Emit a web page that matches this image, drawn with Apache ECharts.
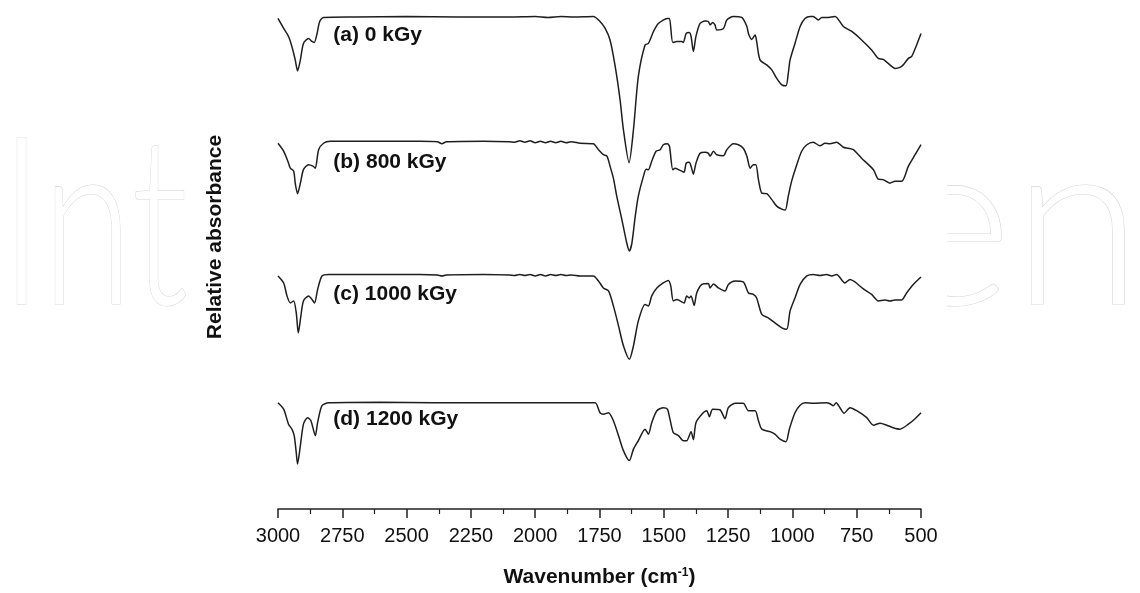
<!DOCTYPE html>
<html>
<head>
<meta charset="utf-8">
<title>FTIR spectra</title>
<script src="https://cdn.jsdelivr.net/npm/echarts@6/dist/echarts.min.js"></script>
<style>
  html, body { margin: 0; padding: 0; background: #fff; }
  #main { width: 1140px; height: 593px; }
</style>
</head>
<body>
<div id="main"></div>
<script type="text/javascript">
// wavenumber ticks (cm-1)
var xTicks = [3000, 2750, 2500, 2250, 2000, 1750, 1500, 1250, 1000, 750, 500];

var doseLabels = ['(a) 0 kGy', '(b) 800 kGy', '(c) 1000 kGy', '(d) 1200 kGy'];

// [wavenumber, relative absorbance (offset for clarity)]
var spec0 = [
  [3000, 98.3], [2978, 96.3], [2959, 94.7], [2946, 92.7], [2933, 90.0], [2924, 87.8],
  [2913, 90.0], [2901, 93.3], [2881, 94.3], [2868, 93.7], [2859, 93.5], [2848, 95.3],
  [2838, 97.7], [2823, 98.5], [2700, 98.6], [2500, 98.7], [2300, 98.6], [2100, 98.6],
  [2000, 98.7], [1950, 98.5], [1900, 98.7], [1850, 98.6], [1774, 98.7], [1748, 97.7],
  [1728, 96.3], [1709, 94.0], [1689, 88.7], [1670, 82.0], [1657, 76.0], [1635, 69.4],
  [1618, 76.0], [1599, 86.7], [1573, 93.0], [1560, 93.3], [1540, 95.7], [1521, 97.3],
  [1486, 98.3], [1478, 98.3], [1465, 93.5], [1449, 93.7], [1430, 93.7], [1424, 93.5],
  [1413, 95.3], [1401, 95.5], [1394, 94.7], [1385, 91.7], [1375, 94.7], [1359, 97.3],
  [1340, 97.8], [1327, 97.7], [1320, 97.0], [1310, 97.5], [1301, 97.0], [1294, 96.0],
  [1268, 96.3], [1255, 98.0], [1230, 98.7], [1197, 98.5], [1177, 96.7], [1171, 95.3],
  [1158, 94.1], [1145, 95.0], [1139, 93.7], [1126, 90.0], [1100, 89.0], [1080, 88.0],
  [1061, 86.3], [1041, 85.0], [1025, 84.8], [1016, 87.3], [1009, 90.0], [990, 93.3],
  [970, 96.7], [951, 98.3], [931, 98.7], [919, 98.7], [899, 98.0], [886, 98.5],
  [867, 98.5], [834, 98.7], [802, 96.7], [769, 95.7], [731, 94.0], [692, 92.0],
  [666, 90.3], [647, 90.1], [614, 88.7], [601, 88.3], [582, 88.5], [569, 89.0],
  [549, 90.3], [536, 90.7], [517, 93.0], [500, 95.3]
];

var spec800 = [
  [3000, 73.3], [2978, 71.7], [2959, 69.3], [2952, 68.3], [2939, 67.7], [2933, 65.3],
  [2924, 63.2], [2913, 65.3], [2901, 68.0], [2881, 69.0], [2864, 68.7], [2855, 68.3],
  [2842, 72.0], [2823, 73.3], [2797, 73.7], [2600, 73.7], [2450, 73.7], [2380, 73.6],
  [2363, 73.2], [2345, 73.6], [2200, 73.7], [2100, 73.6], [2080, 73.5], [2060, 73.8],
  [2040, 73.5], [2020, 73.8], [2000, 73.4], [1980, 73.7], [1960, 73.4], [1940, 73.7],
  [1920, 73.4], [1900, 73.7], [1880, 73.4], [1860, 73.6], [1825, 73.3], [1774, 73.2],
  [1754, 72.0], [1735, 71.0], [1721, 70.7], [1709, 68.7], [1696, 66.3], [1683, 62.7],
  [1663, 58.0], [1644, 53.3], [1634, 51.7], [1624, 53.3], [1611, 58.7], [1599, 62.7],
  [1579, 66.7], [1569, 68.1], [1560, 68.0], [1547, 69.7], [1530, 71.7], [1514, 72.0],
  [1502, 73.0], [1486, 73.2], [1478, 72.7], [1465, 68.0], [1456, 68.3], [1443, 68.0],
  [1430, 67.7], [1421, 67.5], [1413, 69.3], [1401, 69.5], [1394, 68.7], [1385, 67.1],
  [1375, 69.3], [1359, 71.3], [1340, 71.5], [1327, 71.3], [1320, 70.7], [1307, 71.7],
  [1294, 71.0], [1268, 70.8], [1255, 72.0], [1230, 73.2], [1210, 73.0], [1191, 72.3],
  [1177, 70.7], [1164, 68.3], [1152, 69.0], [1142, 69.0], [1132, 66.0], [1119, 63.3],
  [1100, 63.2], [1080, 62.0], [1061, 60.7], [1041, 60.1], [1028, 59.9], [1016, 62.7],
  [1003, 65.7], [983, 69.0], [964, 71.7], [944, 73.0], [919, 73.5], [893, 72.8],
  [873, 73.3], [854, 73.2], [828, 73.5], [802, 72.5], [783, 72.3], [763, 72.0],
  [731, 70.3], [685, 68.0], [666, 66.1], [647, 66.0], [621, 65.3], [601, 65.7],
  [575, 65.7], [549, 68.7], [523, 71.0], [500, 73.0]
];

var spec1000 = [
  [3000, 46.7], [2978, 45.3], [2965, 42.7], [2952, 41.3], [2939, 41.7], [2929, 39.3],
  [2921, 35.3], [2911, 38.7], [2901, 41.7], [2881, 42.7], [2868, 42.0], [2858, 41.3],
  [2846, 44.0], [2829, 46.7], [2803, 47.0], [2600, 47.0], [2450, 47.0], [2380, 46.9],
  [2363, 46.7], [2345, 46.9], [2200, 47.0], [2100, 46.9], [2080, 46.8], [2060, 47.0],
  [2040, 46.8], [2020, 47.0], [2000, 46.7], [1980, 47.0], [1960, 46.7], [1940, 47.0],
  [1920, 46.8], [1900, 47.0], [1880, 46.8], [1860, 46.9], [1825, 46.7], [1774, 46.7],
  [1754, 45.7], [1735, 44.3], [1715, 43.7], [1696, 40.7], [1676, 36.7], [1657, 32.7],
  [1634, 30.0], [1618, 32.7], [1599, 37.7], [1573, 41.0], [1560, 40.7], [1547, 42.7],
  [1527, 44.3], [1502, 45.3], [1482, 45.8], [1473, 44.7], [1463, 41.7], [1449, 42.0],
  [1437, 41.7], [1421, 41.3], [1411, 42.7], [1401, 42.3], [1394, 42.7], [1382, 40.8],
  [1372, 43.3], [1352, 45.0], [1327, 45.2], [1320, 44.3], [1307, 45.1], [1288, 44.3],
  [1262, 43.7], [1249, 45.0], [1223, 45.7], [1191, 45.5], [1171, 43.3], [1152, 43.0],
  [1139, 42.3], [1119, 39.0], [1094, 38.3], [1068, 37.3], [1041, 36.3], [1022, 36.0],
  [1009, 39.7], [990, 42.3], [970, 45.0], [944, 46.7], [919, 47.0], [893, 46.8],
  [867, 47.0], [847, 46.7], [828, 47.0], [796, 45.3], [776, 46.0], [757, 45.5],
  [724, 44.1], [692, 43.0], [666, 41.7], [640, 41.9], [621, 41.7], [601, 41.9],
  [575, 41.9], [556, 43.3], [530, 45.0], [500, 46.5]
];

var spec1200 = [
  [3000, 21.3], [2978, 20.0], [2959, 17.0], [2946, 16.0], [2937, 14.7], [2929, 11.3],
  [2924, 9.0], [2913, 12.7], [2901, 17.0], [2885, 18.3], [2872, 17.7], [2855, 14.7],
  [2846, 17.3], [2829, 20.7], [2803, 21.3], [2600, 21.4], [2400, 21.3], [2200, 21.3],
  [2000, 21.3], [1825, 21.3], [1767, 21.3], [1748, 19.3], [1735, 19.0], [1715, 19.3],
  [1696, 17.7], [1676, 14.7], [1657, 11.7], [1634, 9.7], [1618, 12.0], [1599, 13.7],
  [1573, 16.0], [1560, 15.0], [1547, 17.3], [1527, 19.7], [1502, 20.3], [1486, 20.0],
  [1476, 18.0], [1463, 15.3], [1443, 14.7], [1424, 13.7], [1411, 13.7], [1394, 15.5],
  [1385, 13.9], [1375, 17.3], [1352, 19.0], [1333, 19.7], [1323, 18.5], [1310, 20.0],
  [1282, 19.9], [1262, 18.1], [1249, 20.3], [1223, 21.2], [1191, 21.2], [1171, 19.7],
  [1145, 19.7], [1132, 17.7], [1119, 16.0], [1087, 15.5], [1068, 15.0], [1048, 14.0],
  [1025, 13.5], [1012, 16.0], [990, 19.3], [970, 20.8], [951, 21.3], [919, 21.2],
  [867, 21.3], [854, 21.1], [841, 20.7], [830, 21.3], [815, 20.3], [799, 19.2],
  [776, 20.3], [750, 19.7], [711, 18.3], [685, 16.8], [659, 17.2], [633, 16.8],
  [608, 16.3], [582, 16.0], [549, 17.0], [523, 18.1], [500, 19.3]
];

// where each dose label sits [wavenumber, absorbance]
var labelAnchors = [[2785, 95.0], [2785, 69.4], [2785, 43.0], [2785, 18.0]];

var spectra = [spec0, spec800, spec1000, spec1200];

var myChart = echarts.init(document.getElementById('main'));

var series = spectra.map(function (s, i) {
    return {
        name: doseLabels[i],
        type: 'line',
        data: s,
        symbol: 'none',
        smooth: 0.25,
        silent: true,
        lineStyle: { color: '#1e1e1e', width: 1.5 },
        markPoint: {
            symbol: 'circle',
            symbolSize: 0,
            silent: true,
            data: [{ coord: labelAnchors[i] }],
            label: {
                show: true,
                position: 'right',
                distance: 0,
                formatter: doseLabels[i],
                color: '#111',
                fontFamily: 'Liberation Sans, Arial, sans-serif',
                fontWeight: 'bold',
                fontSize: 21
            }
        }
    };
});

var option = {
    animation: false,
    backgroundColor: '#fff',
    grid: { left: 278, right: 219, top: 10, bottom: 83 },
    graphic: [
        // faint publisher watermark behind the plot
        {
            type: 'text', z: -20, silent: true,
            x: 0, scaleX: 0.7,
            style: {
                text: 'Int', x: 0, y: 228,
                fill: '#fff', stroke: '#d6d6d6', lineWidth: 1.2,
                font: '300 236px Lato, sans-serif',
                verticalAlign: 'middle'
            }
        },
        {
            type: 'text', z: -20, silent: true,
            style: {
                text: 'en', x: 1142, y: 228, align: 'right',
                fill: '#fff', stroke: '#d6d6d6', lineWidth: 1.2,
                font: '300 236px Lato, sans-serif',
                verticalAlign: 'middle'
            }
        },
        {
            type: 'rect', z: -10, silent: true,
            shape: { x: 195, y: 0, width: 752, height: 505 },
            style: { fill: '#fff' }
        },
        {
            type: 'text', silent: true,
            x: 215, y: 237, rotation: Math.PI / 2,
            style: {
                text: 'Relative absorbance',
                fill: '#111',
                font: 'bold 21px "Liberation Sans", Arial, sans-serif',
                align: 'center',
                verticalAlign: 'middle'
            }
        }
    ],
    xAxis: {
        type: 'value',
        inverse: true,
        min: 500,
        max: 3000,
        interval: 250,
        name: '{t|Wavenumber (cm}{s|-1}{t|)}',
        nameLocation: 'middle',
        nameGap: 58,
        nameTextStyle: {
            rich: {
                t: { fontFamily: 'Liberation Sans, Arial, sans-serif', fontWeight: 'bold', fontSize: 21, color: '#111' },
                s: { fontFamily: 'Liberation Sans, Arial, sans-serif', fontWeight: 'bold', fontSize: 12, color: '#111', verticalAlign: 'top' }
            }
        },
        axisLine: { show: true, lineStyle: { color: '#222', width: 1.5 } },
        axisTick: { show: true, inside: false, length: 9, lineStyle: { color: '#222', width: 1.5 } },
        minorTick: { show: true, splitNumber: 2, length: 5, lineStyle: { color: '#222', width: 1.2 } },
        splitLine: { show: false },
        axisLabel: {
            margin: 17,
            color: '#111',
            fontFamily: 'Liberation Sans, Arial, sans-serif',
            fontSize: 20,
            formatter: function (v) { return String(v); },
            customValues: xTicks
        }
    },
    yAxis: {
        type: 'value',
        min: 0,
        max: 100,
        show: false
    },
    series: series
};

myChart.setOption(option);
</script>
</body>
</html>
